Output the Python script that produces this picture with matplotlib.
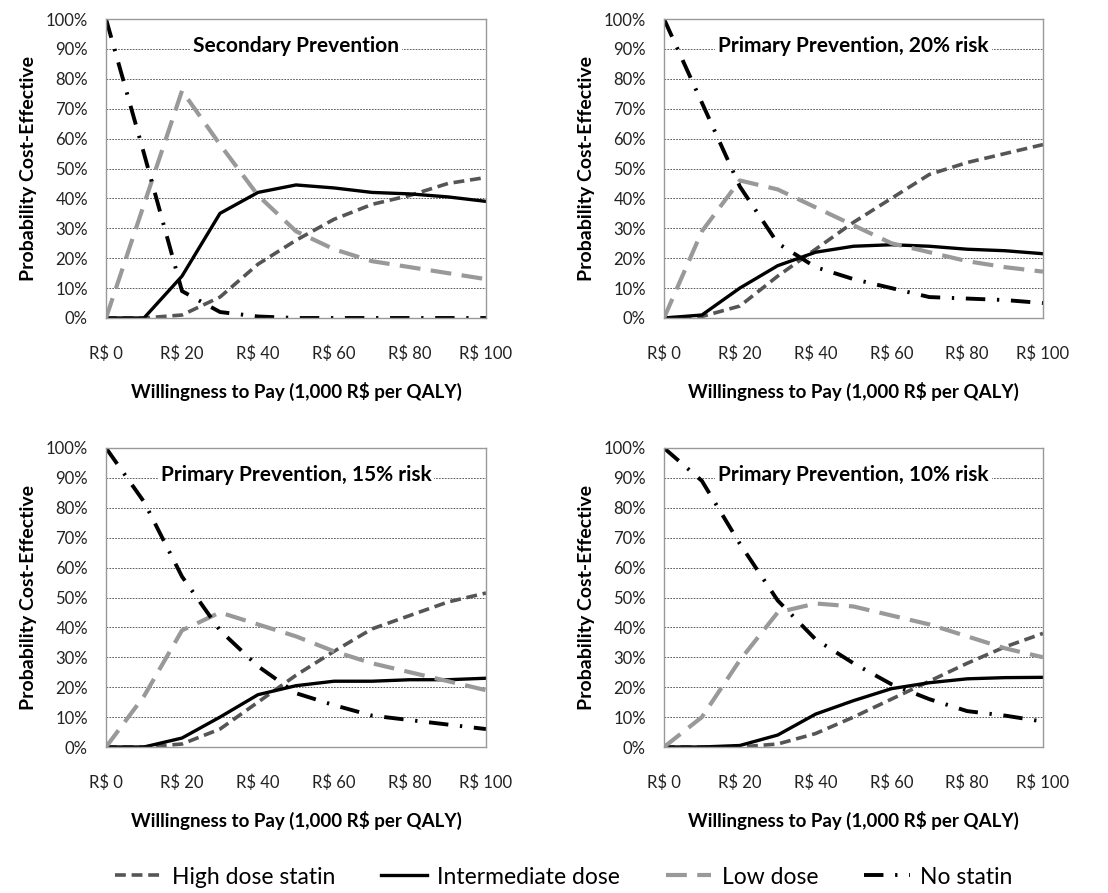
import matplotlib
matplotlib.use("Agg")
import matplotlib.pyplot as plt
from matplotlib.ticker import FuncFormatter

plt.rcParams['font.family'] = ['Lato', 'DejaVu Sans']

# willingness to pay, 1,000 R$ per QALY
wtp = [0, 10, 20, 30, 40, 50, 60, 70, 80, 90, 100]

titles = ["Secondary Prevention",
          "Primary Prevention, 20% risk",
          "Primary Prevention, 15% risk",
          "Primary Prevention, 10% risk"]

# probability cost-effective (%) per panel
high_dose = [
    [0, 0, 1, 7, 18, 26, 33, 38, 41, 45, 47],
    [0, 0.5, 4, 14, 23, 32, 40, 48, 52, 55, 58],
    [0, 0, 1, 6, 15, 24, 32, 39.5, 44, 48.5, 51.5],
    [0, 0, 0, 1, 4.5, 10, 16, 22, 28, 33.5, 38],
]
intermediate = [
    [0, 0, 14, 35, 42, 44.5, 43.5, 42, 41.5, 40.5, 39],
    [0, 1, 10, 17.5, 22, 24, 24.5, 24, 23, 22.5, 21.5],
    [0, 0, 3, 10, 17.5, 20.5, 22, 22, 22.5, 22.5, 23],
    [0, 0, 0.5, 4, 11, 15.5, 19.5, 21.5, 22.8, 23.2, 23.3],
]
low_dose = [
    [0, 38, 76, 58, 41, 29, 23, 19, 17, 15, 13],
    [0, 29, 46, 43, 37, 31, 25, 22, 19, 17, 15.5],
    [0, 17, 39, 45, 41, 37, 32, 28, 25, 22, 19],
    [0, 10, 29, 45, 48, 47, 44, 41, 37, 33, 30],
]
no_statin = [
    [100, 55, 9, 2, 0.5, 0, 0, 0, 0, 0, 0],
    [100, 72, 44, 25, 17, 13, 10, 7, 6.5, 6, 5],
    [100, 82, 57, 39, 27, 18, 14, 10.5, 9, 7.5, 6],
    [100, 89, 68, 49, 36, 28, 21, 16, 12, 10.5, 8.5],
]

series_names = ["High dose statin", "Intermediate dose", "Low dose", "No statin"]

fig = plt.figure(figsize=(11.08, 8.93), dpi=100)
W, H = 1108, 893
# axes boxes in pixels: left, top, right, bottom
boxes = [(106, 19, 486, 318), (664, 19, 1043, 318),
         (106, 448, 486, 747), (664, 448, 1043, 747)]

handles = None
for i, (l, t, r, b) in enumerate(boxes):
    ax = fig.add_axes([l / W, 1 - b / H, (r - l) / W, (b - t) / H])
    h1, = ax.plot(wtp, high_dose[i], color='#555555', lw=2.6,
                  linestyle=(0, (3, 1.6)))
    h2, = ax.plot(wtp, intermediate[i], color='black', lw=2.4, linestyle='-')
    h3, = ax.plot(wtp, low_dose[i], color='#999999', lw=3,
                  linestyle=(0, (5, 2.5)))
    h4, = ax.plot(wtp, no_statin[i], color='black', lw=2.8,
                  linestyle=(0, (5, 3, 0.6, 3)))
    handles = [h1, h2, h3, h4]

    ax.set_xlim(0, 100)
    ax.set_ylim(0, 100)
    ax.set_xticks(range(0, 101, 20))
    ax.set_xticklabels(["R$ %d" % v for v in range(0, 101, 20)])
    ax.set_yticks(range(0, 101, 10))
    ax.yaxis.set_major_formatter(FuncFormatter(lambda v, p: "%d%%" % v))
    ax.tick_params(axis='both', length=0, labelsize=12, colors='#222222')
    ax.tick_params(axis='x', pad=20)
    ax.tick_params(axis='y', pad=13)
    ax.grid(axis='y', color='#444444', linestyle=(0, (2, 1.5)), lw=0.6)
    ax.set_axisbelow(True)
    for s in ax.spines.values():
        s.set_color('#999999')
        s.set_linewidth(1)

    ax.set_xlabel("Willingness to Pay (1,000 R$ per QALY)", fontsize=13.5,
                  fontweight='bold', labelpad=14)
    ax.set_ylabel("Probability Cost-Effective", fontsize=14,
                  fontweight='bold', labelpad=6)
    ax.text(0.5, 0.91, titles[i], transform=ax.transAxes, ha='center',
            va='center', fontsize=15, fontweight='bold',
            bbox=dict(facecolor='white', edgecolor='none', pad=2))

fig.legend(handles, series_names, loc='center',
           bbox_to_anchor=(0.509, 1 - 877 / H),
           ncol=4, frameon=False, fontsize=16.5, handlelength=2.0,
           columnspacing=2.0, handletextpad=0.45)

fig.savefig("out.png", dpi=100)
